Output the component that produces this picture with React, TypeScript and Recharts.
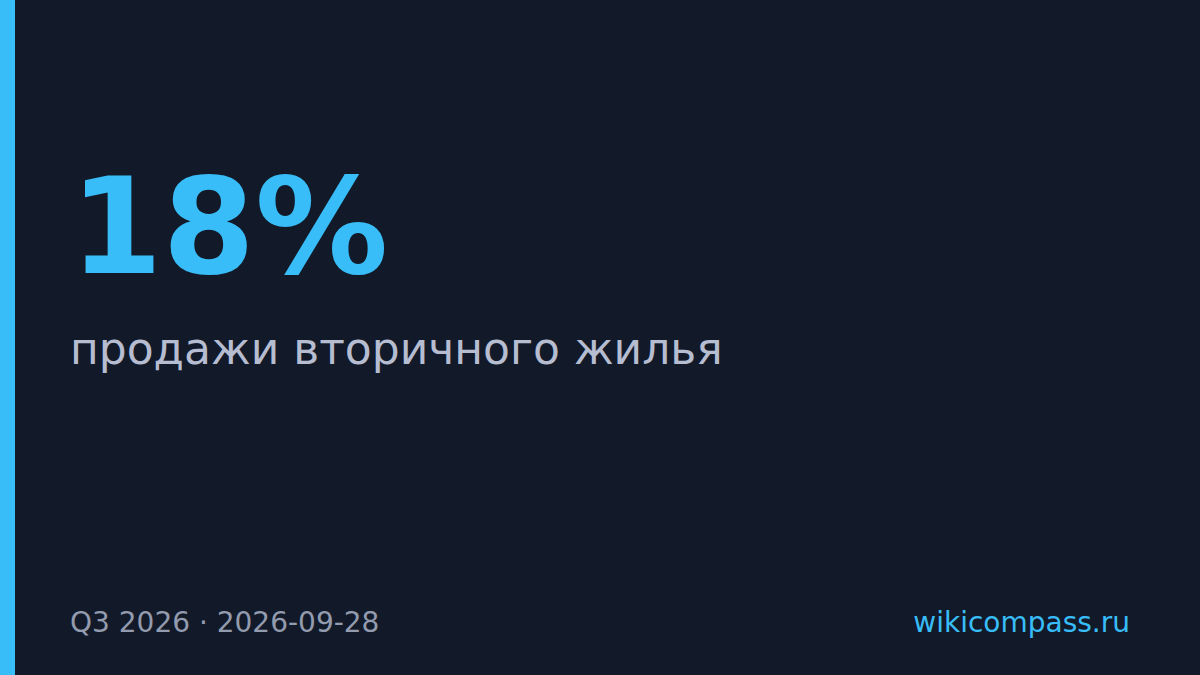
import React from "react"
import { Surface, Layer, Text } from "recharts"

// stat card data
const statValues = [18]
const statUnits = ["%"]
const statLabels = ["продажи вторичного жилья"]
const periodLabels = ["Q3 2026", "2026-09-28"]
const sourceLabels = ["wikicompass.ru"]

const W = 1200
const H = 675
const ACCENT = "#38bdf8"
const FONT = "'DejaVu Sans', sans-serif"

export default function App() {
  return (
    <div style={{ position: "fixed", left: 0, top: 0, width: W, height: H, background: "#121a29" }}>
      <Surface width={W} height={H}>
        <rect x={0} y={0} width={W} height={H} fill="#121a29" />
        <rect x={0} y={0} width={15} height={H} fill={ACCENT} />
        <Layer>
          <Text x={70} y={273} fill={ACCENT} fontFamily={FONT} fontWeight="bold" fontSize={133}>
            {`${statValues[0]}${statUnits[0]}`}
          </Text>
          <Text x={70} y={364} fill="#b6bdd1" fontFamily={FONT} fontSize={44}>
            {statLabels[0]}
          </Text>
          <Text x={70} y={632} fill="#939bae" fontFamily={FONT} fontSize={28}>
            {periodLabels.join(" · ")}
          </Text>
          <Text x={1130} y={632} textAnchor="end" fill={ACCENT} fontFamily={FONT} fontSize={28}>
            {sourceLabels[0]}
          </Text>
        </Layer>
      </Surface>
    </div>
  )
}
